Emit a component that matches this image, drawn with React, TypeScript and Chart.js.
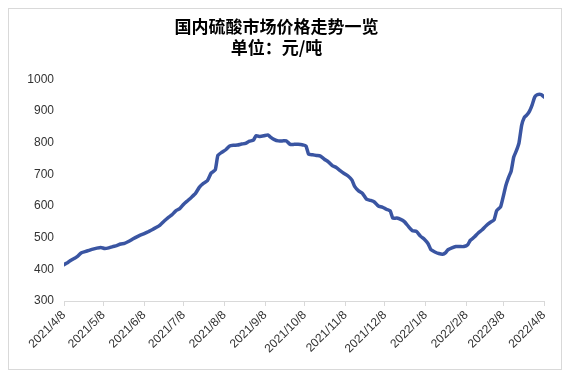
import React, { useEffect, useRef } from "react";
import { Chart, registerables } from "chart.js";

Chart.register(...registerables);

// Chart title lines
const titleLines = ["国内硫酸市场价格走势一览", "单位：元/吨"];

// X tick labels (monthly)
const tickLabels = [
  "2021/4/8", "2021/5/8", "2021/6/8", "2021/7/8", "2021/8/8", "2021/9/8",
  "2021/10/8", "2021/11/8", "2021/12/8", "2022/1/8", "2022/2/8", "2022/3/8", "2022/4/8",
];

// Day offsets from 2021/4/8 for each price observation
const priceDays = [
  0, 3, 5, 8, 10, 13, 16, 19, 22, 25, 28, 31, 34, 37, 40, 43, 46, 49, 52, 55,
  58, 61, 64, 67, 70, 73, 76, 79, 82, 85, 88, 91, 94, 97, 100, 103, 106, 109, 112, 115,
  117, 120, 123, 126, 129, 132, 135, 138, 141, 144, 146, 149, 152, 155, 157, 160, 163, 166, 169, 172,
  175, 178, 181, 184, 186, 189, 192, 195, 198, 201, 204, 207, 210, 213, 216, 219, 221, 224, 227, 230,
  233, 236, 239, 242, 245, 248, 250, 253, 256, 259, 262, 265, 268, 271, 274, 277, 279, 282, 285, 288,
  290, 292, 295, 298, 301, 304, 307, 309, 312, 315, 318, 321, 324, 327, 329, 332, 334, 336, 338, 340,
  342, 344, 346, 348, 350, 352, 354, 356, 358, 360, 363, 365,
];

// Price (元/吨)
const prices = [
  415, 422, 428, 435, 440, 452, 456, 460, 464, 467, 469, 466, 468, 472, 475, 480, 482, 488, 495, 502,
  508, 513, 519, 525, 532, 540, 552, 563, 572, 585, 592, 606, 617, 628, 640, 660, 672, 680, 705, 714,
  760, 770, 778, 790, 792, 793, 796, 798, 805, 808, 822, 820, 822, 825, 818, 810, 806, 806, 806, 795,
  795, 795, 794, 790, 764, 762, 760, 758, 748, 740, 728, 722, 712, 703, 695, 682, 662, 648, 640, 622,
  618, 613, 600, 597, 590, 585, 562, 562, 558, 550, 535, 522, 520, 505, 495, 480, 462, 455, 450, 448,
  452, 462, 468, 472, 472, 472, 478, 492, 502, 515, 525, 538, 548, 556, 585, 598, 630, 665, 690, 710,
  755, 775, 800, 855, 880, 888, 900, 920, 945, 952, 952, 945,
];

const yMin = 300;
const yMax = 1000;
const yStep = 100;

function dayOffset(label: string): number {
  const [y, m, d] = label.split("/").map(Number);
  const [y0, m0, d0] = tickLabels[0].split("/").map(Number);
  const t = Date.UTC(y, m - 1, d) - Date.UTC(y0, m0 - 1, d0);
  return Math.round(t / 86400000);
}

export default function App() {
  const ref = useRef<HTMLCanvasElement | null>(null);

  useEffect(() => {
    if (!ref.current) return;
    const tickDays = tickLabels.map(dayOffset);
    const chart = new Chart(ref.current, {
      type: "line",
      data: {
        datasets: [
          {
            data: priceDays.map((d, i) => ({ x: d, y: prices[i] })),
            borderColor: "#3a55a2",
            borderWidth: 3.5,
            pointRadius: 0,
            tension: 0.15,
            borderJoinStyle: "round",
            borderCapStyle: "round",
            fill: false,
          },
        ],
      },
      options: {
        animation: false,
        responsive: false,
        layout: { padding: { left: 0, right: 17, top: 0, bottom: 0 } },
        plugins: {
          legend: { display: false },
          tooltip: { enabled: false },
          title: {
            display: true,
            text: titleLines,
            color: "#000",
            font: { family: "'Noto Sans CJK SC'", size: 17, weight: "bold", lineHeight: 1.25 },
            padding: { top: 7, bottom: 21 },
          },
        },
        scales: {
          x: {
            type: "linear",
            min: tickDays[0],
            max: tickDays[tickDays.length - 1],
            afterBuildTicks: (scale: any) => {
              scale.ticks = tickDays.map((v) => ({ value: v }));
            },
            afterFit: (scale: any) => {
              scale.height = 68;
            },
            border: { display: true, color: "#d9d9d9", width: 1 },
            grid: {
              display: true,
              drawOnChartArea: false,
              drawTicks: true,
              tickLength: 5,
              color: "#d9d9d9",
            },
            ticks: {
              autoSkip: false,
              maxRotation: 45,
              minRotation: 45,
              padding: 2,
              color: "#333",
              font: { family: "'Liberation Sans'", size: 12 },
              callback: (_v: any, i: number) => tickLabels[i],
            },
          },
          y: {
            min: yMin,
            max: yMax,
            afterFit: (scale: any) => {
              scale.width = 55;
            },
            border: { display: false },
            grid: { display: false, drawTicks: false },
            ticks: {
              stepSize: yStep,
              padding: 10,
              color: "#333",
              font: { family: "'Liberation Sans'", size: 12 },
              callback: (v: any) => String(v),
            },
          },
        },
      },
    });
    return () => chart.destroy();
  }, []);

  return (
    <div
      style={{
        position: "relative",
        width: 554,
        height: 362,
        border: "1px solid #d9d9d9",
        boxSizing: "border-box",
        background: "#fff",
      }}
    >
      <canvas ref={ref} width={552} height={360} style={{ display: "block" }} />
    </div>
  );
}
